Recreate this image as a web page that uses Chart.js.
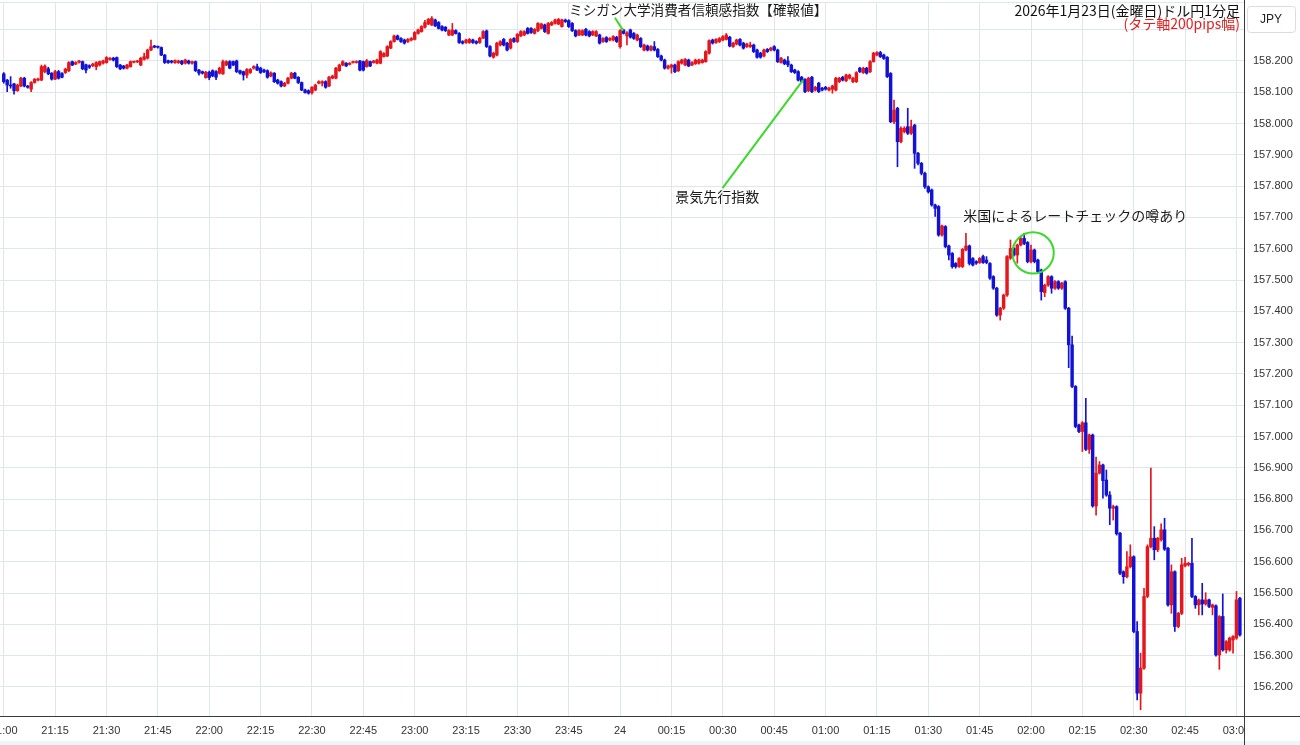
<!DOCTYPE html>
<html lang="ja">
<head>
<meta charset="utf-8">
<title>ドル円1分足</title>
<script src="https://cdn.jsdelivr.net/npm/chart.js@4.4.1/dist/chart.umd.min.js"></script>
<style>
  html, body { margin: 0; padding: 0; background: #fff; }
  #wrap { width: 1300px; height: 745px; }
</style>
</head>
<body>
<div id="wrap"><canvas id="chart" width="1300" height="745"></canvas></div>
<script>
// 1分足 OHLC (21:00 = 0 から1分ごと)
const opens = [
  158.159,158.139,158.123,158.127,158.105,158.120,158.145,158.120,158.110,158.131,
  158.139,158.139,158.166,158.175,158.161,158.142,158.166,158.160,158.163,158.169,
  158.198,158.190,158.196,158.198,158.188,158.185,158.185,158.182,158.187,158.193,
  158.195,158.205,158.209,158.211,158.187,158.184,158.177,158.182,158.196,158.197,
  158.187,158.205,158.209,158.235,158.248,158.246,158.243,158.219,158.201,158.200,
  158.195,158.195,158.200,158.193,158.200,158.193,158.198,158.171,158.166,158.147,
  158.164,158.169,158.166,158.161,158.159,158.187,158.198,158.198,158.200,158.169,
  158.166,158.155,158.163,158.177,158.182,158.177,158.171,158.169,158.152,158.161,
  158.139,158.134,158.120,158.129,158.145,158.161,158.148,158.131,158.107,158.105,
  158.099,158.107,158.129,158.129,158.134,158.120,158.145,158.145,158.169,158.187,
  158.193,158.189,158.195,158.195,158.200,158.198,158.182,158.198,158.195,158.193,
  158.193,158.214,158.216,158.241,158.262,158.280,158.272,158.267,158.262,158.267,
  158.269,158.288,158.294,158.308,158.318,158.315,158.331,158.323,158.310,158.308,
  158.283,158.283,158.297,158.288,158.262,158.259,158.259,158.267,158.262,158.259,
  158.273,158.296,158.246,158.212,158.219,158.251,158.269,158.257,158.241,158.272,
  158.262,158.280,158.283,158.304,158.304,158.288,158.297,158.304,158.315,158.288,
  158.315,158.320,158.318,158.310,158.331,158.329,158.320,158.297,158.283,158.283,
  158.301,158.294,158.283,158.280,158.283,158.262,158.275,158.267,158.267,158.276,
  158.246,158.299,158.280,158.299,158.288,158.267,158.272,158.235,158.248,158.235,
  158.246,158.237,158.216,158.203,158.177,158.180,158.187,158.169,158.193,158.187,
  158.203,158.187,158.191,158.193,158.195,158.198,158.225,158.267,158.259,158.262,
  158.267,158.269,158.276,158.246,158.254,158.269,158.257,158.246,158.246,158.251,
  158.235,158.225,158.216,158.237,158.235,158.246,158.235,158.195,158.203,158.200,
  158.187,158.171,158.166,158.148,158.141,158.105,158.148,158.107,158.129,158.113,
  158.116,158.107,158.110,158.107,158.134,158.148,158.137,158.145,158.134,158.134,
  158.177,158.163,158.177,158.166,158.198,158.219,158.227,158.219,158.212,158.160,
  158.006,158.049,157.942,157.974,157.990,157.969,157.995,157.905,157.873,157.841,
  157.798,157.788,157.740,157.735,157.644,157.671,157.609,157.585,157.553,157.543,
  157.543,157.596,157.609,157.569,157.559,157.556,157.575,157.564,157.553,157.511,
  157.474,157.388,157.410,157.452,157.570,157.601,157.580,157.612,157.633,157.620,
  157.559,157.596,157.564,157.532,157.460,157.484,157.511,157.474,157.495,157.474,
  157.495,157.410,157.293,157.160,157.037,157.016,157.044,156.959,157.005,156.778,
  156.883,156.909,156.861,156.813,156.771,156.776,156.691,156.568,156.552,156.584,
  156.616,156.377,156.180,156.260,156.489,156.648,156.675,156.638,156.670,156.702,
  156.643,156.462,156.568,156.393,156.435,156.587,156.590,156.595,156.489,156.462,
  156.478,156.465,156.478,156.454,156.459,156.302,156.425,156.318,156.318,156.350,
  156.356,156.483
];
const highs = [
  158.163,158.141,158.150,158.129,158.126,158.148,158.148,158.122,158.134,158.144,
  158.145,158.187,158.188,158.180,158.163,158.170,158.170,158.163,158.177,158.198,
  158.200,158.198,158.202,158.200,158.190,158.188,158.193,158.198,158.200,158.203,
  158.214,158.211,158.212,158.213,158.189,158.186,158.189,158.200,158.200,158.202,
  158.212,158.225,158.238,158.267,158.250,158.248,158.245,158.221,158.203,158.202,
  158.204,158.203,158.202,158.206,158.203,158.200,158.200,158.173,158.168,158.167,
  158.168,158.172,158.169,158.180,158.203,158.201,158.201,158.200,158.203,158.171,
  158.168,158.176,158.176,158.185,158.190,158.180,158.174,158.172,158.165,158.163,
  158.142,158.137,158.132,158.148,158.164,158.164,158.150,158.133,158.110,158.108,
  158.118,158.126,158.137,158.137,158.137,158.151,158.155,158.180,158.190,158.201,
  158.195,158.195,158.200,158.201,158.202,158.200,158.205,158.200,158.202,158.206,
  158.233,158.227,158.249,158.265,158.283,158.283,158.275,158.270,158.272,158.275,
  158.294,158.302,158.313,158.330,158.336,158.342,158.334,158.326,158.313,158.310,
  158.300,158.320,158.300,158.291,158.265,158.270,158.272,158.270,158.265,158.276,
  158.297,158.299,158.249,158.228,158.260,158.265,158.272,158.260,158.272,158.275,
  158.288,158.297,158.297,158.307,158.307,158.304,158.323,158.321,158.318,158.323,
  158.326,158.334,158.336,158.334,158.334,158.332,158.323,158.300,158.300,158.300,
  158.304,158.297,158.297,158.297,158.286,158.275,158.278,158.275,158.281,158.279,
  158.300,158.302,158.294,158.302,158.291,158.286,158.275,158.254,158.251,158.249,
  158.262,158.240,158.219,158.206,158.187,158.190,158.190,158.201,158.206,158.208,
  158.206,158.198,158.206,158.206,158.206,158.233,158.268,158.270,158.272,158.275,
  158.281,158.288,158.279,158.260,158.270,158.272,158.260,158.257,158.260,158.254,
  158.238,158.228,158.238,158.240,158.244,158.249,158.238,158.212,158.206,158.214,
  158.190,158.174,158.169,158.151,158.144,158.148,158.151,158.119,158.132,158.116,
  158.119,158.116,158.123,158.148,158.148,158.151,158.158,158.158,158.148,158.166,
  158.180,158.180,158.180,158.201,158.228,158.230,158.231,158.222,158.214,158.163,
  158.075,158.052,157.990,157.990,158.049,158.011,157.998,157.908,157.876,157.845,
  157.801,157.791,157.743,157.738,157.676,157.674,157.612,157.588,157.556,157.572,
  157.601,157.649,157.612,157.572,157.562,157.572,157.580,157.575,157.556,157.514,
  157.477,157.413,157.455,157.578,157.628,157.604,157.615,157.640,157.649,157.623,
  157.612,157.599,157.567,157.535,157.487,157.514,157.514,157.498,157.498,157.493,
  157.498,157.413,157.321,157.163,157.040,157.048,157.122,157.008,157.008,156.934,
  156.920,156.912,156.893,156.824,156.781,156.779,156.694,156.571,156.632,156.654,
  156.619,156.409,156.308,156.515,156.654,156.899,156.712,156.678,156.721,156.739,
  156.646,156.590,156.571,156.438,156.611,156.614,156.598,156.675,156.492,156.481,
  156.531,156.501,156.481,156.465,156.462,156.428,156.497,156.348,156.359,156.364,
  156.505,156.486
];
const lows = [
  158.129,158.102,158.113,158.094,158.103,158.118,158.117,158.113,158.102,158.129,
  158.136,158.137,158.163,158.156,158.139,158.140,158.142,158.146,158.160,158.166,
  158.185,158.188,158.193,158.172,158.162,158.176,158.182,158.172,158.184,158.190,
  158.193,158.203,158.200,158.179,158.172,158.174,158.175,158.180,158.194,158.195,
  158.185,158.203,158.206,158.233,158.242,158.241,158.217,158.192,158.192,158.193,
  158.192,158.192,158.188,158.190,158.190,158.190,158.166,158.155,158.158,158.145,
  158.140,158.150,158.140,158.158,158.157,158.185,158.175,158.185,158.163,158.158,
  158.139,158.146,158.160,158.174,158.169,158.160,158.163,158.145,158.149,158.131,
  158.126,158.117,158.118,158.127,158.143,158.143,158.128,158.105,158.097,158.094,
  158.094,158.105,158.127,158.120,158.113,158.118,158.143,158.143,158.167,158.185,
  158.182,158.187,158.193,158.193,158.168,158.168,158.180,158.182,158.193,158.191,
  158.191,158.212,158.214,158.239,158.260,158.267,158.259,158.254,158.259,158.264,
  158.267,158.286,158.292,158.305,158.316,158.313,158.310,158.302,158.296,158.294,
  158.281,158.281,158.286,158.256,158.254,158.256,158.256,158.256,158.254,158.256,
  158.271,158.243,158.213,158.209,158.216,158.248,158.248,158.232,158.238,158.259,
  158.259,158.278,158.281,158.286,158.288,158.286,158.294,158.302,158.291,158.286,
  158.313,158.318,158.316,158.308,158.323,158.307,158.294,158.277,158.281,158.281,
  158.280,158.277,158.281,158.278,158.254,158.259,158.259,158.264,158.264,158.259,
  158.241,158.286,158.251,158.273,158.269,158.264,158.243,158.232,158.232,158.232,
  158.232,158.211,158.200,158.174,158.174,158.161,158.163,158.166,158.190,158.185,
  158.182,158.185,158.189,158.190,158.193,158.196,158.222,158.254,158.256,158.259,
  158.264,158.267,158.245,158.243,158.251,158.248,158.238,158.243,158.243,158.227,
  158.209,158.209,158.213,158.227,158.232,158.232,158.195,158.193,158.188,158.182,
  158.163,158.160,158.136,158.131,158.099,158.102,158.099,158.104,158.099,158.104,
  158.107,158.104,158.097,158.104,158.131,158.136,158.134,158.142,158.131,158.131,
  158.163,158.160,158.158,158.163,158.196,158.216,158.211,158.205,158.147,158.003,
  158.000,157.862,157.938,157.970,157.965,157.965,157.857,157.868,157.836,157.793,
  157.778,157.736,157.703,157.640,157.640,157.603,157.564,157.538,157.538,157.540,
  157.540,157.593,157.548,157.545,157.550,157.553,157.553,157.552,157.502,157.470,
  157.384,157.372,157.406,157.448,157.566,157.576,157.554,157.609,157.613,157.555,
  157.555,157.555,157.523,157.436,157.447,157.480,157.458,157.470,157.470,157.470,
  157.406,157.220,157.156,157.028,157.012,156.952,156.955,156.946,156.774,156.749,
  156.880,156.803,156.809,156.718,156.733,156.685,156.559,156.531,156.548,156.580,
  156.373,156.158,156.127,156.256,156.485,156.644,156.606,156.632,156.666,156.636,
  156.458,156.435,156.377,156.389,156.431,156.583,156.586,156.485,156.451,156.430,
  156.430,156.461,156.453,156.430,156.298,156.256,156.314,156.308,156.314,156.308,
  156.352,156.362
];
const closes = [
  158.134,158.123,158.120,158.105,158.123,158.145,158.120,158.116,158.131,158.142,
  158.142,158.182,158.184,158.159,158.142,158.166,158.145,158.148,158.174,158.195,
  158.187,158.195,158.200,158.175,158.171,158.180,158.190,158.195,158.198,158.200,
  158.211,158.209,158.203,158.182,158.175,158.177,158.187,158.198,158.198,158.200,
  158.209,158.214,158.235,158.246,158.244,158.244,158.219,158.195,158.195,158.196,
  158.201,158.200,158.191,158.203,158.193,158.198,158.169,158.161,158.161,158.164,
  158.147,158.152,158.148,158.177,158.198,158.198,158.177,158.187,158.166,158.161,
  158.155,158.173,158.173,158.182,158.171,158.163,158.166,158.148,158.162,158.134,
  158.129,158.120,158.129,158.145,158.161,158.145,158.131,158.107,158.099,158.097,
  158.116,158.123,158.134,158.134,158.116,158.148,158.152,158.177,158.187,158.198,
  158.184,158.193,158.198,158.198,158.171,158.171,158.201,158.184,158.200,158.203,
  158.230,158.224,158.246,158.262,158.280,158.269,158.262,158.257,158.269,158.272,
  158.291,158.299,158.310,158.323,158.333,158.336,158.312,158.304,158.299,158.297,
  158.297,158.299,158.288,158.259,158.257,158.267,158.269,158.259,158.257,158.273,
  158.294,158.246,158.216,158.225,158.257,158.262,158.251,158.235,158.269,158.262,
  158.285,158.294,158.294,158.288,158.291,158.301,158.320,158.318,158.294,158.320,
  158.323,158.331,158.333,158.331,158.326,158.310,158.297,158.280,158.297,158.297,
  158.283,158.280,158.294,158.294,158.257,158.272,158.262,158.272,158.278,158.262,
  158.297,158.288,158.290,158.276,158.272,158.283,158.246,158.251,158.235,158.246,
  158.235,158.214,158.203,158.177,158.184,158.187,158.166,158.198,158.203,158.205,
  158.184,158.195,158.203,158.203,158.203,158.230,158.265,158.257,158.269,158.272,
  158.278,158.283,158.248,158.257,158.267,158.251,158.241,158.254,158.251,158.230,
  158.212,158.212,158.235,158.230,158.241,158.235,158.198,158.209,158.191,158.188,
  158.166,158.163,158.139,158.134,158.102,158.145,158.102,158.116,158.102,158.107,
  158.110,158.113,158.120,158.145,158.145,158.139,158.155,158.155,158.145,158.163,
  158.166,158.177,158.161,158.198,158.225,158.227,158.214,158.208,158.150,158.006,
  158.043,157.942,157.985,157.985,157.969,157.990,157.905,157.873,157.841,157.798,
  157.782,157.740,157.729,157.644,157.673,157.607,157.580,157.543,157.543,157.569,
  157.598,157.609,157.553,157.548,157.554,157.569,157.556,157.556,157.506,157.474,
  157.388,157.410,157.452,157.575,157.601,157.580,157.612,157.633,157.617,157.559,
  157.596,157.559,157.527,157.463,157.484,157.511,157.474,157.495,157.474,157.490,
  157.410,157.293,157.160,157.032,157.016,157.044,156.959,157.005,156.778,156.883,
  156.909,156.859,156.813,156.771,156.776,156.689,156.563,156.552,156.584,156.616,
  156.377,156.180,156.260,156.489,156.648,156.675,156.638,156.675,156.702,156.640,
  156.462,156.568,156.393,156.435,156.590,156.595,156.595,156.489,156.462,156.478,
  156.465,156.478,156.457,156.462,156.302,156.425,156.318,156.345,156.356,156.361,
  156.478,156.366
];

// 目盛り
const tickMinutes = [0,15,30,45,60,75,90,105,120,135,150,165,180,195,210,225,240,255,270,285,300,315,330,345,360];
const tickLabels = ['21:00','21:15','21:30','21:45','22:00','22:15','22:30','22:45','23:00','23:15','23:30','23:45','24',
  '00:15','00:30','00:45','01:00','01:15','01:30','01:45','02:00','02:15','02:30','02:45','03:00'];
const priceTicks = [156.2,156.3,156.4,156.5,156.6,156.7,156.8,156.9,157.0,157.1,157.2,157.3,157.4,157.5,157.6,157.7,157.8,157.9,158.0,158.1,158.2,158.3];

// 注記 (分, 価格)
const notes = [
  { text: 'ミシガン大学消費者信頼感指数【確報値】', m: 202.8, v: 158.363, align: 'center', size: 13.6 },
  { text: '景気先行指数', m: 196.1, v: 157.765, align: 'left', size: 14 },
  { text: '米国によるレートチェックの噂あり', m: 280.2, v: 157.705, align: 'left', size: 14 }
];
const pointers = [
  [[178.5, 158.338], [180.9, 158.297]],
  [[209.9, 157.794], [233.4, 158.139]]
];
const ring = { m: 300.6, v: 157.587, r: 20.7 };

const UP = '#e5161c';
const DOWN = '#1212d6';
const GREEN = '#3ad92a';
const GRID = '#e1e6ec';

const candleColors = closes.map((c, i) => c >= opens[i] ? UP : DOWN);
const bodyData = opens.map((o, i) => ({ x: i, y: [o, closes[i]] }));
const wickData = lows.map((l, i) => ({ x: i, y: [l, highs[i]] }));

Chart.defaults.font.family = "'Liberation Sans', Arial, sans-serif";

const notePlugin = {
  id: 'notes',
  beforeDraw(chart) {
    const ctx = chart.ctx;
    ctx.save();
    ctx.fillStyle = '#fff';
    ctx.fillRect(0, 0, chart.width, chart.height);
    ctx.fillStyle = '#f0f3f8';
    ctx.fillRect(0, chart.height - 4, chart.width, 4);
    ctx.restore();
  },
  afterDraw(chart) {
    const { ctx, chartArea: a, scales: { x, y } } = chart;
    ctx.save();

    // 03:00 ラベルの右側を隠す
    ctx.fillStyle = '#fff';
    ctx.fillRect(a.right + 1, a.bottom + 1, chart.width - a.right, chart.height - a.bottom - 5);

    // 枠線
    ctx.strokeStyle = GRID;
    ctx.lineWidth = 1;
    ctx.beginPath();
    ctx.moveTo(a.left, a.top + 0.5);
    ctx.lineTo(a.right, a.top + 0.5);
    ctx.stroke();
    ctx.strokeStyle = '#3a3a3a';
    ctx.beginPath();
    ctx.moveTo(0, a.bottom + 0.5);
    ctx.lineTo(chart.width, a.bottom + 0.5);
    ctx.moveTo(a.right + 0.5, 0);
    ctx.lineTo(a.right + 0.5, chart.height);
    ctx.stroke();

    // 引き出し線と丸
    ctx.strokeStyle = GREEN;
    ctx.lineWidth = 2;
    pointers.forEach(p => {
      ctx.beginPath();
      ctx.moveTo(x.getPixelForValue(p[0][0]), y.getPixelForValue(p[0][1]));
      ctx.lineTo(x.getPixelForValue(p[1][0]), y.getPixelForValue(p[1][1]));
      ctx.stroke();
    });
    ctx.beginPath();
    ctx.arc(x.getPixelForValue(ring.m), y.getPixelForValue(ring.v), ring.r, 0, Math.PI * 2);
    ctx.stroke();

    // 注記テキスト
    ctx.fillStyle = '#1a1a1a';
    ctx.textBaseline = 'middle';
    notes.forEach(n => {
      ctx.font = n.size + "px 'Noto Sans CJK JP'";
      ctx.textAlign = n.align;
      ctx.fillText(n.text, x.getPixelForValue(n.m), y.getPixelForValue(n.v));
    });

    // タイトル
    ctx.textAlign = 'right';
    ctx.font = "14px 'Noto Sans CJK JP'";
    ctx.fillStyle = '#111';
    ctx.fillText('2026年1月23日(金曜日)ドル円1分足', a.right - 4, 11);
    ctx.fillStyle = '#e0201e';
    ctx.fillText('(タテ軸200pips幅)', a.right - 4, 24);

    // 通貨ボックス
    const bx = a.right + 3, by = 6, bw = 48, bh = 26;
    ctx.fillStyle = '#fff';
    ctx.strokeStyle = '#d9dde3';
    ctx.lineWidth = 1;
    ctx.beginPath();
    ctx.roundRect(bx + 0.5, by + 0.5, bw, bh, 3);
    ctx.fill();
    ctx.stroke();
    ctx.fillStyle = '#222';
    ctx.textAlign = 'center';
    ctx.font = "12px 'Liberation Sans', Arial, sans-serif";
    ctx.fillText('JPY', bx + bw / 2, by + bh / 2 + 1);

    ctx.restore();
  }
};

new Chart(document.getElementById('chart'), {
  type: 'bar',
  data: {
    datasets: [
      {
        label: 'body',
        data: bodyData,
        backgroundColor: candleColors,
        barThickness: 2.8,
        minBarLength: 1,
        grouped: false,
        order: 0
      },
      {
        label: 'wick',
        data: wickData,
        backgroundColor: candleColors,
        barThickness: 1,
        grouped: false,
        order: 1
      }
    ]
  },
  options: {
    responsive: false,
    animation: false,
    devicePixelRatio: 1,
    layout: { padding: { top: 2, left: 0, right: 0, bottom: 0 } },
    plugins: {
      legend: { display: false },
      tooltip: { enabled: false }
    },
    scales: {
      x: {
        type: 'linear',
        min: -1.1,
        max: 362.2,
        offset: false,
        afterBuildTicks: s => { s.ticks = tickMinutes.map(v => ({ value: v })); },
        afterFit: s => { s.height = 29; s.paddingLeft = 0; s.paddingRight = 0; },
        grid: { color: GRID, drawTicks: false, offset: false },
        border: { display: false },
        ticks: {
          autoSkip: false,
          maxRotation: 0,
          padding: 8,
          color: '#333',
          font: { size: 11 },
          callback: (v, i) => tickLabels[i]
        }
      },
      y: {
        position: 'right',
        min: 156.107,
        max: 158.3885,
        afterBuildTicks: s => { s.ticks = priceTicks.map(v => ({ value: v })); },
        afterFit: s => { s.width = 56; s.paddingTop = 0; s.paddingBottom = 0; },
        grid: { color: GRID, drawTicks: false },
        border: { display: false },
        ticks: {
          padding: 9,
          color: '#333',
          font: { size: 11 },
          callback: v => v.toFixed(3)
        }
      }
    }
  },
  plugins: [notePlugin]
});
</script>
</body>
</html>
